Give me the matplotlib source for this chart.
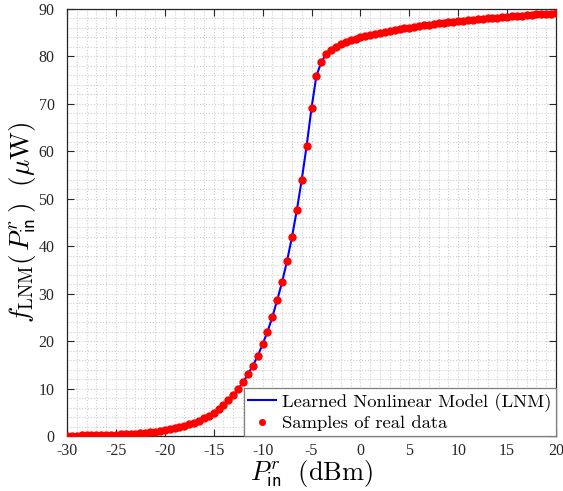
import numpy as np
import matplotlib
matplotlib.use("Agg")
import matplotlib.pyplot as plt
from matplotlib.ticker import MultipleLocator

plt.rcParams['mathtext.fontset'] = 'cm'
plt.rcParams['axes.unicode_minus'] = False

# Input power samples (dBm), 0.5 dB grid
p_in = np.arange(-30, 20.5, 0.5)
# Harvested power (uW)
f_lnm = [0.08, 0.09, 0.10, 0.11, 0.13, 0.15, 0.17, 0.20, 0.23, 0.26,
         0.30, 0.34, 0.40, 0.46, 0.52, 0.60, 0.69, 0.80, 0.92, 1.05,
         1.21, 1.39, 1.60, 1.84, 2.12, 2.44, 2.80, 3.22, 3.70, 4.26,
         4.90, 5.62, 6.48, 7.50, 8.70, 9.90, 11.3, 13.0, 14.8, 16.9,
         19.3, 22.0, 25.1, 28.7, 32.5, 36.9, 41.9, 47.6, 54.0, 61.1,
         69.1, 75.9, 78.8, 80.5, 81.4, 82.0, 82.6, 83.0, 83.4, 83.75,
         84.05, 84.3, 84.55, 84.8, 85.0, 85.2, 85.4, 85.6, 85.8, 85.95,
         86.1, 86.25, 86.4, 86.55, 86.7, 86.85, 86.95, 87.1, 87.2, 87.3,
         87.4, 87.5, 87.6, 87.7, 87.8, 87.9, 88.0, 88.1, 88.2, 88.3,
         88.4, 88.45, 88.55, 88.6, 88.7, 88.75, 88.85, 88.9, 89.0, 89.05,
         89.1]

x_ticks = [-30, -25, -20, -15, -10, -5, 0, 5, 10, 15, 20]
x_ticklabels = ['-30', '-25', '-20', '-15', '-10', '-5', '0', '5', '10', '15', '20']
y_ticks = [0, 10, 20, 30, 40, 50, 60, 70, 80, 90]
y_ticklabels = ['0', '10', '20', '30', '40', '50', '60', '70', '80', '90']

fig = plt.figure(figsize=(5.63, 4.91), dpi=100)
ax = fig.add_axes([67/563, 1-436/491, (556-67)/563, (436-9)/491])

ax.plot(p_in, f_lnm, color='#0000ff', lw=1.5, label='Learned Nonlinear Model (LNM)', zorder=3)
ax.plot(p_in, f_lnm, ls='none', marker='o', ms=5.0, color='#ff0000', mec='#ff0000',
        label='Samples of real data', zorder=4)

ax.set_xlim(-30, 20)
ax.set_ylim(0, 90)
ax.set_xticks(x_ticks)
ax.set_xticklabels(x_ticklabels, family='Liberation Serif', fontsize=11.5)
ax.set_yticks(y_ticks)
ax.set_yticklabels(y_ticklabels, family='Liberation Serif', fontsize=11.5)
ax.xaxis.set_minor_locator(MultipleLocator(1))
ax.yaxis.set_minor_locator(MultipleLocator(2))
ax.tick_params(which='major', direction='in', length=5, width=0.8, color='#262626',
               top=True, right=True, labelcolor='#262626')
ax.tick_params(axis='x', which='major', pad=5)
ax.tick_params(axis='y', which='major', pad=9)
ax.tick_params(which='minor', length=0, top=True, right=True)
ax.grid(which='both', ls=':', color='#cfcfcf', lw=0.8)
ax.set_axisbelow(True)
for s in ax.spines.values():
    s.set_color('#262626')
    s.set_linewidth(0.9)

ax.set_xlabel(r'$P_{\mathsf{in}}^{r}\ \ (\mathrm{dBm})$', fontsize=19, labelpad=-1)
ax.set_ylabel(r'$f_{\mathrm{LNM}}(\,P_{\mathsf{in}}^{r}\,)\ \ (\mu\mathrm{W})$', fontsize=19.5, labelpad=0)

leg = ax.legend(loc='lower right', bbox_to_anchor=(1.0, 0.0), borderaxespad=0,
                prop={'family': 'cmr10', 'size': 13.4}, fancybox=False, framealpha=1,
                edgecolor='#7f7f7f', handlelength=1.5, handletextpad=0.3,
                borderpad=0.25, labelspacing=0.2, numpoints=1, markerscale=0.8)
leg.get_frame().set_linewidth(0.9)

fig.savefig('out.png', dpi=100)
